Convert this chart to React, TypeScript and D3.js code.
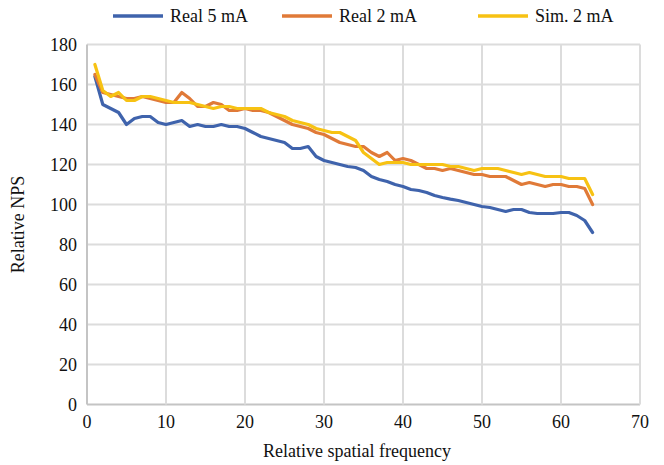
import React from "react";
import * as d3 from "d3";

const xValues: number[] = d3.range(1, 65);

const real5mA: number[] = [
  164, 150, 148, 146, 140, 143, 144, 144, 141, 140,
  141, 142, 139, 140, 139, 139, 140, 139, 139, 138,
  136, 134, 133, 132, 131, 128, 128, 129, 124, 122,
  121, 120, 119, 118.5, 117, 114, 112.5, 111.5, 110, 109,
  107.5, 107, 106, 104.5, 103.5, 102.7, 102, 101, 100, 99,
  98.5, 97.5, 96.5, 97.5, 97.5, 96, 95.5, 95.5, 95.5, 96,
  96, 94.5, 92, 86,
];

const real2mA: number[] = [
  165, 156, 155, 154, 153, 153, 154, 153, 152, 151,
  151, 156, 153, 149, 149, 151, 150, 147, 147, 148,
  147, 147, 146, 144, 142, 140, 139, 138, 136, 135,
  133, 131, 130, 129, 129, 126, 124, 126, 122, 123,
  122, 120, 118, 118, 117, 118, 117, 116, 115, 115,
  114, 114, 114, 112, 110, 111, 110, 109, 110, 110,
  109, 109, 108, 100,
];

const sim2mA: number[] = [
  170, 157, 154, 156, 152, 152, 154, 154, 153, 152,
  151, 151, 151, 150, 149, 148, 149, 149, 148, 148,
  148, 148, 146, 145, 144, 142, 141, 140, 138, 137,
  136, 136, 134, 132, 126, 123, 120, 121, 121, 121,
  120, 120, 120, 120, 120, 119, 119, 118, 117, 118,
  118, 118, 117, 116, 115, 116, 115, 114, 114, 114,
  113, 113, 113, 105,
];

const seriesNames: string[] = ["Real 5 mA", "Real 2 mA", "Sim. 2 mA"];
const seriesColors: string[] = ["#3f63ac", "#e07a38", "#f7c213"];
const xTicks: number[] = [0, 10, 20, 30, 40, 50, 60, 70];
const yTicks: number[] = [0, 20, 40, 60, 80, 100, 120, 140, 160, 180];

const W = 664;
const H = 465;
const left = 87;
const right = 640;
const top = 44.5;
const bottom = 404.5;

export default function App() {
  const x = d3.scaleLinear().domain([0, 70]).range([left, right]);
  const y = d3.scaleLinear().domain([0, 180]).range([bottom, top]);
  const line = d3
    .line<number>()
    .x((_, i) => x(xValues[i]))
    .y((d) => y(d));
  const allSeries = [real5mA, real2mA, sim2mA];
  const legendX = [113, 282, 478];
  const ff = { fontFamily: "Liberation Serif" };

  return (
    <svg width={W} height={H} style={{ position: "absolute", left: 0, top: 0 }}>
      <style>{`text { font-family: "Liberation Serif", Tinos, "Times New Roman", serif; fill: #111; }`}</style>
      <rect x={0} y={0} width={W} height={H} fill="#fff" />
      {yTicks.map((t) => (
        <line
          key={"gy" + t}
          x1={left}
          x2={right}
          y1={y(t)}
          y2={y(t)}
          stroke={t === 0 ? "#c4c4c4" : "#dcdcdc"}
          strokeWidth={2}
        />
      ))}
      {xTicks.map((t) => (
        <line
          key={"gx" + t}
          x1={x(t)}
          x2={x(t)}
          y1={top}
          y2={bottom}
          stroke={t === 0 ? "#c4c4c4" : "#dcdcdc"}
          strokeWidth={2}
        />
      ))}
      {yTicks.map((t) => (
        <text key={"ty" + t} x={77} y={y(t) + 6} textAnchor="end" fontSize={18} style={ff}>
          {t}
        </text>
      ))}
      {xTicks.map((t) => (
        <text key={"tx" + t} x={x(t)} y={428} textAnchor="middle" fontSize={18} style={ff}>
          {t}
        </text>
      ))}
      {allSeries.map((s, i) => (
        <path
          key={"s" + i}
          d={line(s) || ""}
          fill="none"
          stroke={seriesColors[i]}
          strokeWidth={3.2}
          strokeLinejoin="round"
          strokeLinecap="round"
        />
      ))}
      <text x={357} y={457} textAnchor="middle" fontSize={18} style={ff}>
        Relative spatial frequency
      </text>
      <text
        transform={`translate(24,${(top + bottom) / 2}) rotate(-90)`}
        textAnchor="middle"
        fontSize={18}
        style={ff}
      >
        Relative NPS
      </text>
      {seriesNames.map((n, i) => (
        <g key={"l" + i}>
          <line
            x1={legendX[i]}
            x2={legendX[i] + 50}
            y1={16}
            y2={16}
            stroke={seriesColors[i]}
            strokeWidth={3.5}
          />
          <text x={legendX[i] + 57} y={22} fontSize={18} style={ff}>
            {n}
          </text>
        </g>
      ))}
    </svg>
  );
}
